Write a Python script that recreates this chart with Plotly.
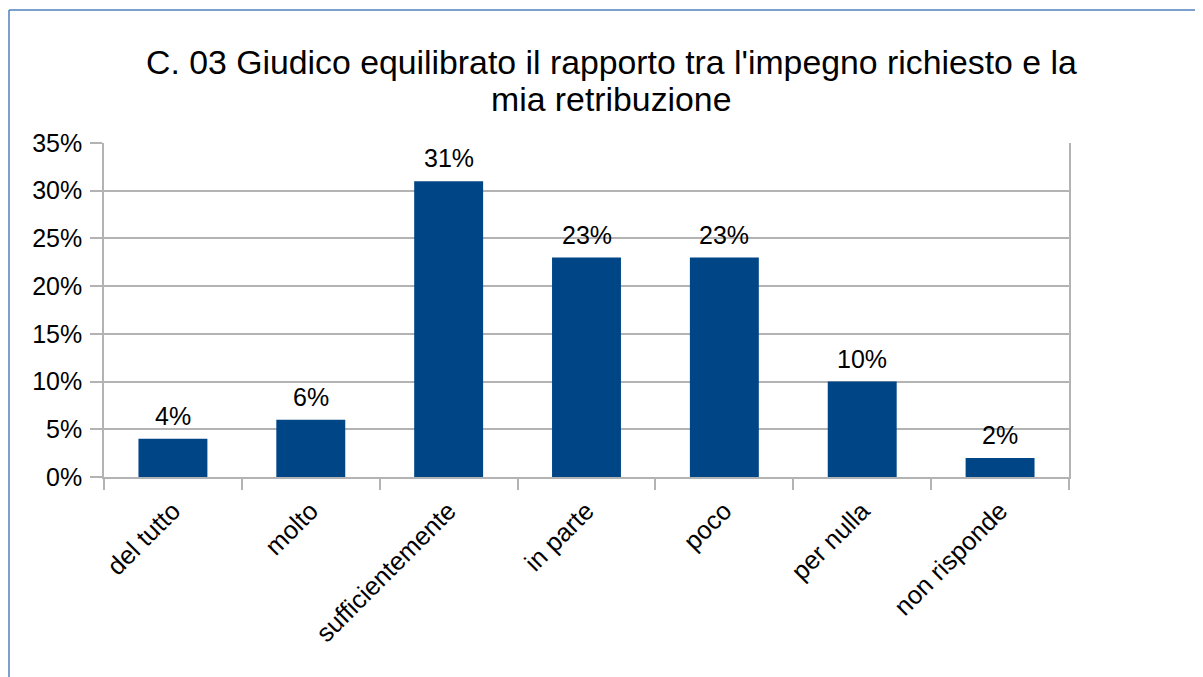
import plotly.graph_objects as go

categories = ["del tutto", "molto", "sufficientemente", "in parte", "poco", "per nulla", "non risponde"]
values = [4, 6, 31, 23, 23, 10, 2]
y_ticks = [0, 5, 10, 15, 20, 25, 30, 35]
y_tick_labels = ["0%", "5%", "10%", "15%", "20%", "25%", "30%", "35%"]
title_lines = ["C. 03 Giudico equilibrato il rapporto tra l'impegno richiesto e la", "mia retribuzione"]

OFF = 8  # page body offset
W, H = 1203 - OFF, 677 - OFF
L, R, T, B = 104 - OFF, 134, 143 - OFF, 200
pw = W - L - R
ph = H - T - B


def px(xabs):
    return (xabs - OFF - L) / pw


def py(yabs):
    return 1 + (T - (yabs - OFF)) / ph


fig = go.Figure(go.Bar(
    x=categories, y=values,
    marker=dict(color="#004586", line=dict(width=0)),
    width=0.5,
    cliponaxis=False,
))

for c, v in zip(categories, values):
    fig.add_annotation(x=c, y=v, text=f"{v}%", showarrow=False, yanchor="bottom",
                       yshift=7, font=dict(size=25, color="#000000"))

title_y = [62, 99]
for t, yy in zip(title_lines, title_y):
    fig.add_annotation(xref="paper", yref="paper", x=px(611), y=py(yy), text=t,
                       showarrow=False, xanchor="center", yanchor="middle",
                       font=dict(size=33.8, color="#000000"))

grid = "#b3b3b3"
fig.update_layout(
    width=W, height=H,
    margin=dict(l=L, r=R, t=T, b=B, pad=0),
    paper_bgcolor="white", plot_bgcolor="white",
    font=dict(family="Liberation Sans, Arial, sans-serif", color="#000000"),
    showlegend=False,
    xaxis=dict(
        type="category", tickson="boundaries", ticks="outside", ticklen=11, tickwidth=1.5,
        tickcolor=grid, showgrid=False, showline=True, linecolor=grid, linewidth=1.5,
        tickangle=-45, tickfont=dict(size=25.5, color="#000000"), ticklabelstandoff=7,
    ),
    yaxis=dict(
        range=[0, 35], tickvals=y_ticks, ticktext=y_tick_labels,
        ticks="outside", ticklen=12, tickwidth=1.5, tickcolor=grid,
        showgrid=True, gridcolor=grid, gridwidth=1.5,
        showline=True, linecolor=grid, linewidth=1.5, mirror=True,
        zeroline=False, tickfont=dict(size=25, color="#000000"), ticklabelstandoff=3,
    ),
)

border = "#4f81bd"
fig.add_shape(type="line", xref="paper", yref="paper", x0=px(9), x1=px(9), y0=py(10), y1=py(690),
              line=dict(color=border, width=1.5), layer="above")
fig.add_shape(type="line", xref="paper", yref="paper", x0=px(9), x1=px(1210), y0=py(10), y1=py(10),
              line=dict(color=border, width=1.5), layer="above")

fig.write_html("out.html")
